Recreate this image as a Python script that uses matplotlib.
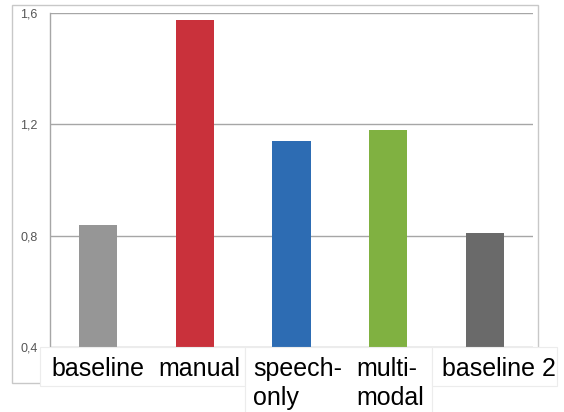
import matplotlib
matplotlib.use("Agg")
import matplotlib.pyplot as plt
from matplotlib.patches import Rectangle

categories = ["baseline", "manual", "speech-\nonly", "multi-\nmodal", "baseline 2"]
values = [0.838, 1.575, 1.14, 1.18, 0.808]
colors = ["#969696", "#c9313b", "#2d6cb3", "#80b141", "#6a6a6a"]
yticks = [0.4, 0.8, 1.2, 1.6]
ytick_labels = ["0,4", "0,8", "1,2", "1,6"]

W, H = 564, 412

def fx(x):
    return x / W

def fy(y):
    return 1 - y / H

fig = plt.figure(figsize=(W / 100, H / 100), dpi=100)
fig.patch.set_facecolor("white")

# outer chart frame
fig.add_artist(Rectangle((fx(12), fy(383)), fx(538) - fx(12), fy(5) - fy(383),
                         transform=fig.transFigure, fill=False,
                         edgecolor="#c8c8c8", linewidth=1, zorder=0))

ax = fig.add_axes([fx(50), fy(346.7), fx(533) - fx(50), fy(13.1) - fy(346.7)])
ax.set_facecolor("none")

x = list(range(len(categories)))
ax.bar(x, values, width=0.395, color=colors, zorder=3)

ax.set_xlim(-0.5, len(categories) - 0.5)
ax.set_ylim(0.4, 1.6)
ax.set_yticks(yticks)
ax.set_yticklabels(ytick_labels, fontsize=9, color="#555555", family="Liberation Sans")
ax.set_xticks([])
ax.tick_params(axis="y", length=0, pad=9)
ax.yaxis.grid(True, color="#a6a6a6", linewidth=1, zorder=0)
for s in ["top", "right", "bottom"]:
    ax.spines[s].set_visible(False)
ax.spines["left"].set_color("#a6a6a6")
ax.spines["left"].set_linewidth(1)

# white label boxes laid over the bottom of the chart
boxes = [(40, 347, 245, 386), (245, 347, 432, 415), (432, 347, 557, 386)]
for x0, y0, x1, y1 in boxes:
    fig.add_artist(Rectangle((fx(x0), fy(y1)), fx(x1) - fx(x0), fy(y0) - fy(y1),
                             transform=fig.transFigure, facecolor="white",
                             edgecolor="#ececec", linewidth=0.8, zorder=5))

label_x = [51, 158, 253, 356, 442]
for lx, lab in zip(label_x, categories):
    for i, line in enumerate(lab.split("\n")):
        fig.text(fx(lx), fy(376 + i * 29), line, fontsize=18,
                 family="Liberation Sans", color="black",
                 ha="left", va="baseline", zorder=6)

fig.savefig("out.png", dpi=100)
